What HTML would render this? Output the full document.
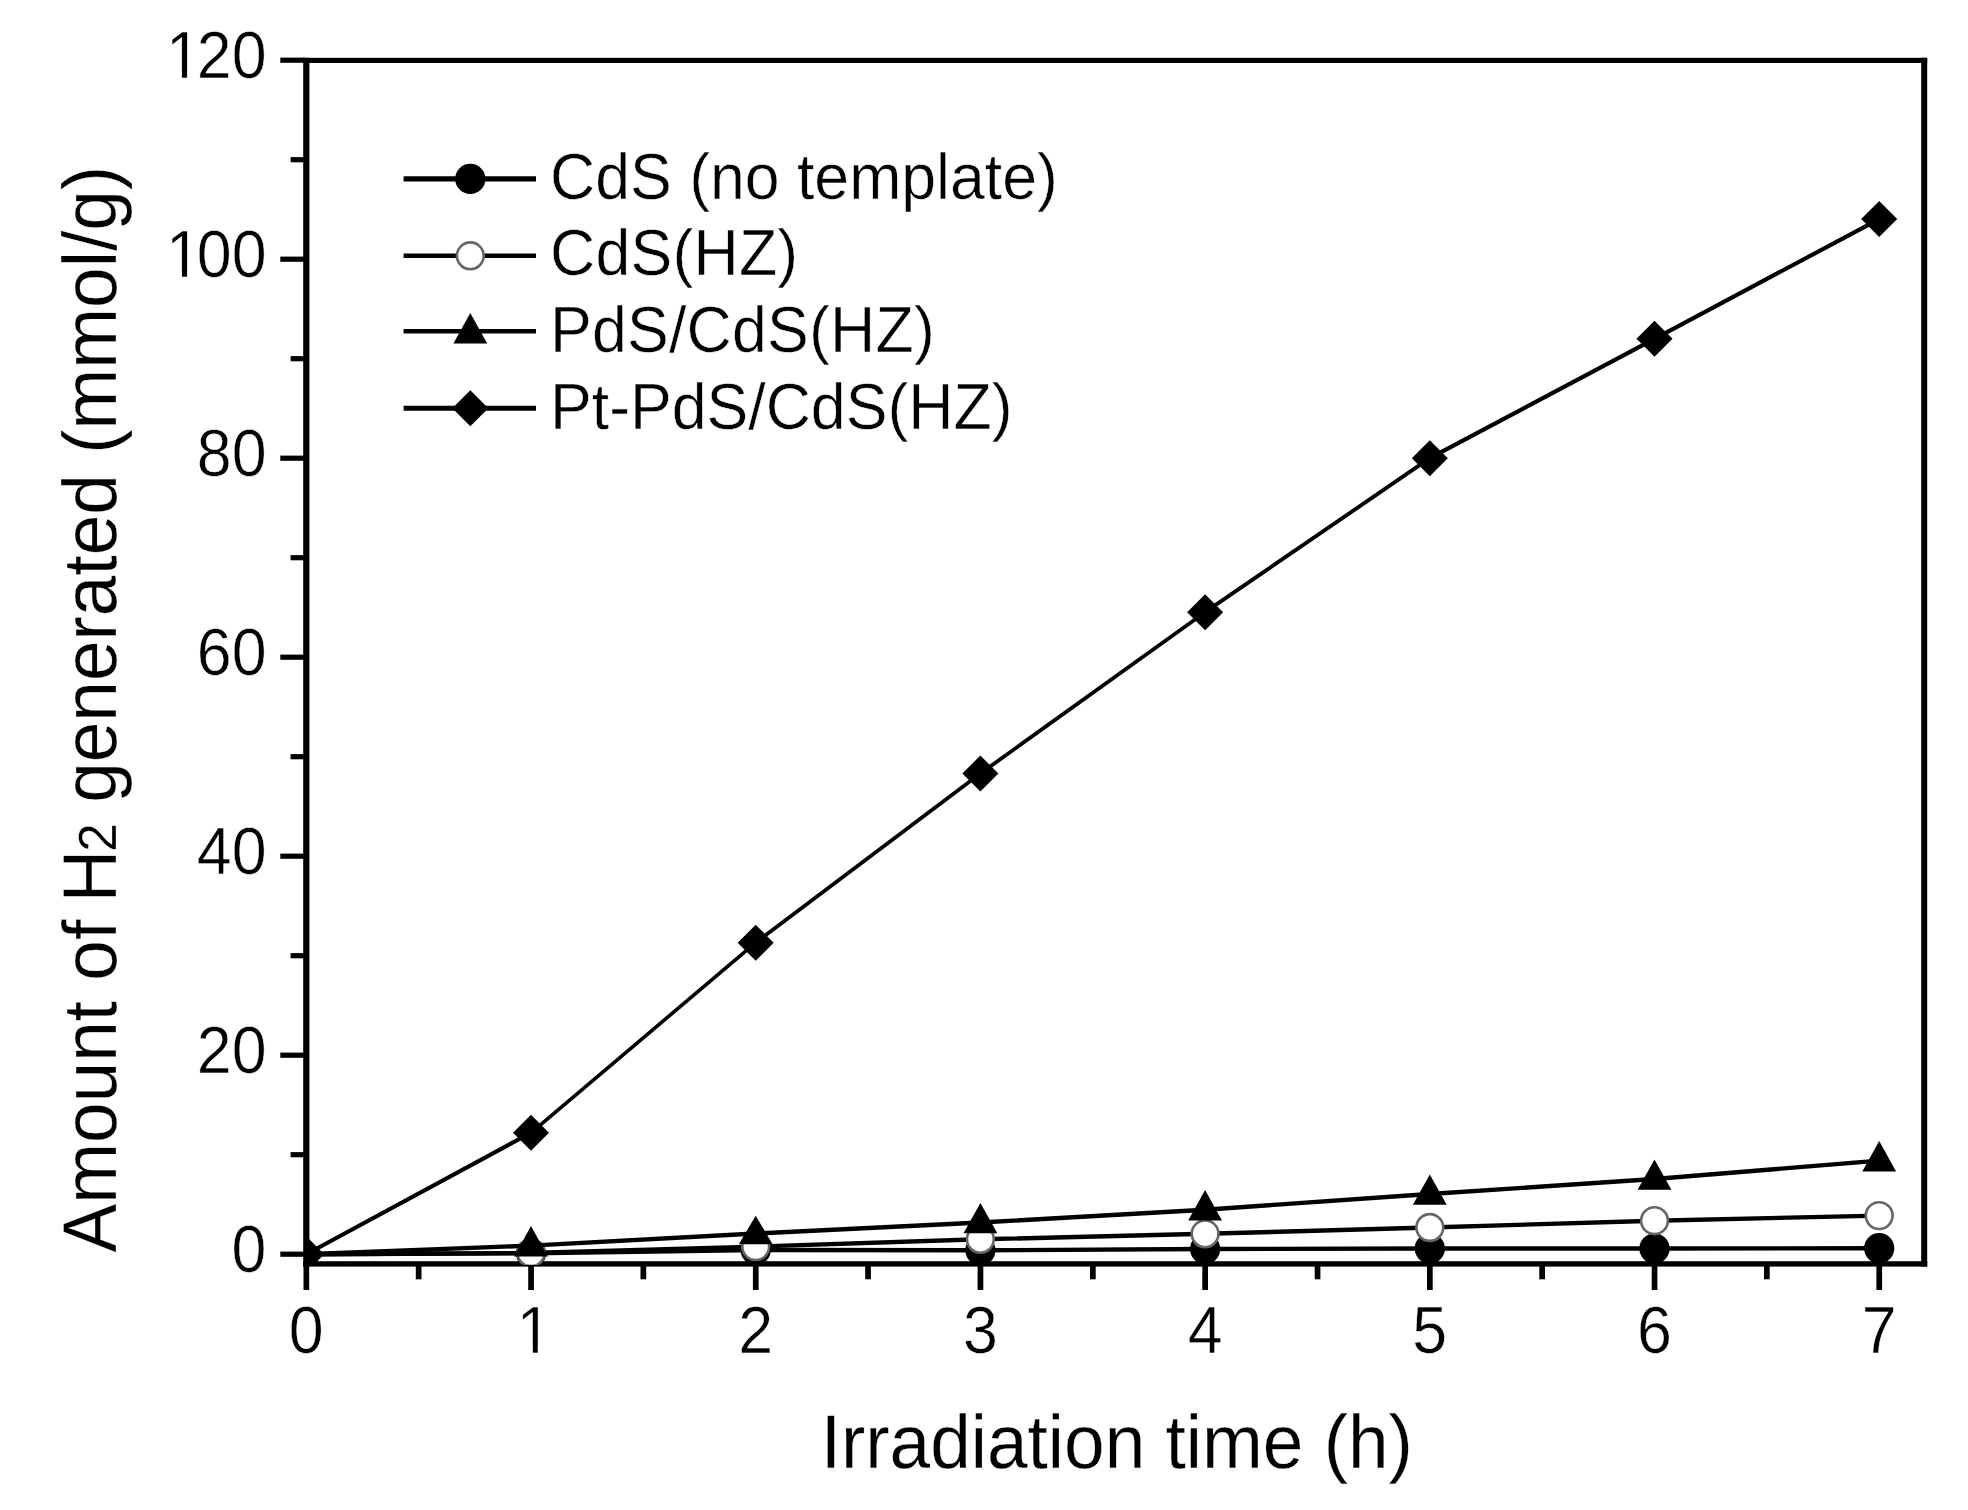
<!DOCTYPE html>
<html lang="en">
<head>
<meta charset="utf-8">
<title>Amount of H2 generated vs irradiation time</title>
<style>
html,body{margin:0;padding:0;background:#fff;}
body{width:1968px;height:1510px;overflow:hidden;}
svg{display:block;}
text{font-family:"Liberation Sans", Arial, Helvetica, sans-serif;fill:#000;stroke:#fff;stroke-width:0.5px;paint-order:fill stroke;}
.tick{font-size:62.7px;}
.leg{font-size:62.6px;}
.ttl{font-size:73px;stroke-width:0.3px;}
.ser line{stroke:#000;stroke-linecap:round;}
</style>
</head>
<body>
<svg width="1968" height="1510" viewBox="0 0 1968 1510">
<rect x="0" y="0" width="1968" height="1510" fill="#fff"/>
<defs><clipPath id="plotclip"><rect x="304" y="40" width="1640" height="1224.7"/></clipPath></defs>
<g fill="#000">
<rect x="303.2" y="57.8" width="6.2" height="1208.8"/>
<rect x="1921.2" y="57.8" width="6.0" height="1208.8"/>
<rect x="303.2" y="57.8" width="1624" height="5.2"/>
<rect x="303.2" y="1261.2" width="1624" height="5.4"/>
<rect x="280.3" y="1251.6" width="24" height="5.2"/>
<rect x="290.6" y="1152.1" width="14" height="5.2"/>
<rect x="280.3" y="1052.6" width="24" height="5.2"/>
<rect x="290.6" y="953.1" width="14" height="5.2"/>
<rect x="280.3" y="853.6" width="24" height="5.2"/>
<rect x="290.6" y="754.1" width="14" height="5.2"/>
<rect x="280.3" y="654.6" width="24" height="5.2"/>
<rect x="290.6" y="555.1" width="14" height="5.2"/>
<rect x="280.3" y="455.6" width="24" height="5.2"/>
<rect x="290.6" y="356.1" width="14" height="5.2"/>
<rect x="280.3" y="256.6" width="24" height="5.2"/>
<rect x="290.6" y="157.1" width="14" height="5.2"/>
<rect x="280.3" y="57.6" width="24" height="5.2"/>
<rect x="303.5" y="1264" width="5.7" height="26"/>
<rect x="415.8" y="1264" width="5.7" height="15.3"/>
<rect x="528.2" y="1264" width="5.7" height="26"/>
<rect x="640.5" y="1264" width="5.7" height="15.3"/>
<rect x="752.9" y="1264" width="5.7" height="26"/>
<rect x="865.2" y="1264" width="5.7" height="15.3"/>
<rect x="977.6" y="1264" width="5.7" height="26"/>
<rect x="1090.0" y="1264" width="5.7" height="15.3"/>
<rect x="1202.3" y="1264" width="5.7" height="26"/>
<rect x="1314.7" y="1264" width="5.7" height="15.3"/>
<rect x="1427.0" y="1264" width="5.7" height="26"/>
<rect x="1539.3" y="1264" width="5.7" height="15.3"/>
<rect x="1651.7" y="1264" width="5.7" height="26"/>
<rect x="1764.0" y="1264" width="5.7" height="15.3"/>
<rect x="1876.4" y="1264" width="5.7" height="26"/>
</g>
<g class="tick" text-anchor="end">
<text transform="translate(266.5,1272.4) scale(1,1.06)">0</text>
<text transform="translate(266.5,1073.4) scale(1,1.06)">20</text>
<text transform="translate(266.5,874.4) scale(1,1.06)">40</text>
<text transform="translate(266.5,675.4) scale(1,1.06)">60</text>
<text transform="translate(266.5,476.4) scale(1,1.06)">80</text>
<text text-anchor="start" transform="translate(161.9,277.4) scale(1,1.06)"><tspan dx="4">1</tspan><tspan dx="-4">00</tspan></text>
<text text-anchor="start" transform="translate(161.9,78.4) scale(1,1.06)"><tspan dx="4">1</tspan><tspan dx="-4">20</tspan></text>
</g>
<g class="tick" text-anchor="middle">
<text transform="translate(306.3,1353.2) scale(1,1.06)">0</text>
<text transform="translate(534.3,1353.2) scale(1,1.06)">1</text>
<text transform="translate(755.7,1353.2) scale(1,1.06)">2</text>
<text transform="translate(980.4,1353.2) scale(1,1.06)">3</text>
<text transform="translate(1205.1,1353.2) scale(1,1.06)">4</text>
<text transform="translate(1429.8,1353.2) scale(1,1.06)">5</text>
<text transform="translate(1654.5,1353.2) scale(1,1.06)">6</text>
<text transform="translate(1879.2,1353.2) scale(1,1.06)">7</text>
</g>
<g fill="#fff">
<rect x="169.3" y="271.3" width="12.6" height="8"/>
<rect x="187.1" y="271.3" width="12" height="8"/>
<rect x="169.3" y="72.3" width="12.6" height="8"/>
<rect x="187.1" y="72.3" width="12" height="8"/>
<rect x="520.2" y="1347.2" width="12.6" height="8"/>
<rect x="537.8" y="1347.2" width="12" height="8"/>
</g>
<text class="ttl" transform="translate(1116.8,1467.6) scale(1,1.03)" text-anchor="middle">Irradiation time (h)</text>
<text class="ttl" transform="translate(115.7,1252.5) rotate(-90) scale(1,1.03)">Amount of <tspan dx="-3">H</tspan><tspan font-size="51.5" dx="-2">2</tspan> generated (mmol/g)</text>
<g class="ser" clip-path="url(#plotclip)">
<line x1="306.3" y1="1254.2" x2="531.0" y2="1253.3" stroke-width="4.40"/>
<line x1="531.0" y1="1253.3" x2="755.7" y2="1250.0" stroke-width="4.40"/>
<line x1="755.7" y1="1250.0" x2="980.4" y2="1250.3" stroke-width="4.40"/>
<line x1="980.4" y1="1250.3" x2="1205.1" y2="1249.0" stroke-width="4.40"/>
<line x1="1205.1" y1="1249.0" x2="1429.8" y2="1248.5" stroke-width="4.40"/>
<line x1="1429.8" y1="1248.5" x2="1654.5" y2="1248.5" stroke-width="4.40"/>
<line x1="1654.5" y1="1248.5" x2="1879.2" y2="1248.2" stroke-width="4.40"/>
<circle cx="531.0" cy="1253.3" r="15.1" fill="#000"/>
<circle cx="755.7" cy="1250.0" r="15.1" fill="#000"/>
<circle cx="980.4" cy="1250.3" r="15.1" fill="#000"/>
<circle cx="1205.1" cy="1249.0" r="15.1" fill="#000"/>
<circle cx="1429.8" cy="1248.5" r="15.1" fill="#000"/>
<circle cx="1654.5" cy="1248.5" r="15.1" fill="#000"/>
<circle cx="1879.2" cy="1248.2" r="15.1" fill="#000"/>
<line x1="306.3" y1="1254.2" x2="531.0" y2="1253.0" stroke-width="4.40"/>
<line x1="531.0" y1="1253.0" x2="755.7" y2="1246.6" stroke-width="4.40"/>
<line x1="755.7" y1="1246.6" x2="980.4" y2="1239.3" stroke-width="4.40"/>
<line x1="980.4" y1="1239.3" x2="1205.1" y2="1233.8" stroke-width="4.40"/>
<line x1="1205.1" y1="1233.8" x2="1429.8" y2="1227.5" stroke-width="4.40"/>
<line x1="1429.8" y1="1227.5" x2="1654.5" y2="1220.7" stroke-width="4.40"/>
<line x1="1654.5" y1="1220.7" x2="1879.2" y2="1215.6" stroke-width="4.40"/>
<circle cx="531.0" cy="1253.0" r="13.4" fill="#fff" stroke="#666" stroke-width="2.6"/>
<circle cx="755.7" cy="1246.6" r="13.4" fill="#fff" stroke="#666" stroke-width="2.6"/>
<circle cx="980.4" cy="1239.3" r="13.4" fill="#fff" stroke="#666" stroke-width="2.6"/>
<circle cx="1205.1" cy="1233.8" r="13.4" fill="#fff" stroke="#666" stroke-width="2.6"/>
<circle cx="1429.8" cy="1227.5" r="13.4" fill="#fff" stroke="#666" stroke-width="2.6"/>
<circle cx="1654.5" cy="1220.7" r="13.4" fill="#fff" stroke="#666" stroke-width="2.6"/>
<circle cx="1879.2" cy="1215.6" r="13.4" fill="#fff" stroke="#666" stroke-width="2.6"/>
<line x1="306.3" y1="1254.2" x2="531.0" y2="1245.6" stroke-width="4.40"/>
<line x1="531.0" y1="1245.6" x2="755.7" y2="1233.5" stroke-width="4.39"/>
<line x1="755.7" y1="1233.5" x2="980.4" y2="1222.5" stroke-width="4.39"/>
<line x1="980.4" y1="1222.5" x2="1205.1" y2="1209.7" stroke-width="4.39"/>
<line x1="1205.1" y1="1209.7" x2="1429.8" y2="1194.0" stroke-width="4.39"/>
<line x1="1429.8" y1="1194.0" x2="1654.5" y2="1179.0" stroke-width="4.39"/>
<line x1="1654.5" y1="1179.0" x2="1879.2" y2="1160.6" stroke-width="4.39"/>
<polygon points="531.0,1226.0 547.9,1256.4 514.1,1256.4" fill="#000"/>
<polygon points="755.7,1215.7 772.6,1244.3 738.8,1244.3" fill="#000"/>
<polygon points="980.4,1202.9 997.3,1233.3 963.5,1233.3" fill="#000"/>
<polygon points="1205.1,1190.1 1222.0,1220.5 1188.2,1220.5" fill="#000"/>
<polygon points="1429.8,1174.4 1446.7,1204.8 1412.9,1204.8" fill="#000"/>
<polygon points="1654.5,1159.4 1671.4,1189.8 1637.6,1189.8" fill="#000"/>
<polygon points="1879.2,1141.0 1896.1,1171.4 1862.3,1171.4" fill="#000"/>
<line x1="306.3" y1="1254.2" x2="531.0" y2="1132.8" stroke-width="4.14"/>
<line x1="531.0" y1="1132.8" x2="755.7" y2="942.7" stroke-width="3.59"/>
<line x1="755.7" y1="942.7" x2="980.4" y2="773.5" stroke-width="3.75"/>
<line x1="980.4" y1="773.5" x2="1205.1" y2="612.2" stroke-width="3.82"/>
<line x1="1205.1" y1="612.2" x2="1429.8" y2="458.2" stroke-width="3.88"/>
<line x1="1429.8" y1="458.2" x2="1654.5" y2="338.8" stroke-width="4.15"/>
<line x1="1654.5" y1="338.8" x2="1879.2" y2="219.1" stroke-width="4.15"/>
<polygon points="306.3,1236.2 324.3,1254.2 306.3,1272.2 288.3,1254.2" fill="#000"/>
<polygon points="531.0,1114.8 549.0,1132.8 531.0,1150.8 513.0,1132.8" fill="#000"/>
<polygon points="755.7,924.7 773.7,942.7 755.7,960.7 737.7,942.7" fill="#000"/>
<polygon points="980.4,755.5 998.4,773.5 980.4,791.5 962.4,773.5" fill="#000"/>
<polygon points="1205.1,594.2 1223.1,612.2 1205.1,630.2 1187.1,612.2" fill="#000"/>
<polygon points="1429.8,440.2 1447.8,458.2 1429.8,476.2 1411.8,458.2" fill="#000"/>
<polygon points="1654.5,320.8 1672.5,338.8 1654.5,356.8 1636.5,338.8" fill="#000"/>
<polygon points="1879.2,201.1 1897.2,219.1 1879.2,237.1 1861.2,219.1" fill="#000"/>
</g>
<line x1="403.6" y1="178.9" x2="536" y2="178.9" stroke="#000" stroke-width="5.2"/>
<circle cx="470.3" cy="178.9" r="15.1" fill="#000"/>
<text class="leg" transform="translate(550,198.9) scale(1,1.03)">CdS (no template)</text>
<line x1="403.6" y1="255.8" x2="536" y2="255.8" stroke="#000" stroke-width="4.4"/>
<circle cx="470.3" cy="255.8" r="13.4" fill="#fff" stroke="#666" stroke-width="2.6"/>
<text class="leg" transform="translate(550,275.3) scale(1,1.03)" letter-spacing="0.22">CdS(HZ)</text>
<line x1="403.6" y1="331.3" x2="536" y2="331.3" stroke="#000" stroke-width="4.4"/>
<polygon points="470.3,313.1 487.2,343.5 453.4,343.5" fill="#000"/>
<text class="leg" transform="translate(550,351.7) scale(1,1.03)" letter-spacing="0.22">PdS/CdS(HZ)</text>
<line x1="403.6" y1="408.3" x2="536" y2="408.3" stroke="#000" stroke-width="4.9"/>
<polygon points="470.3,390.3 488.3,408.3 470.3,426.3 452.3,408.3" fill="#000"/>
<text class="leg" transform="translate(550,428.7) scale(1,1.03)">Pt-PdS/CdS(HZ)</text>
</svg>
</body>
</html>
